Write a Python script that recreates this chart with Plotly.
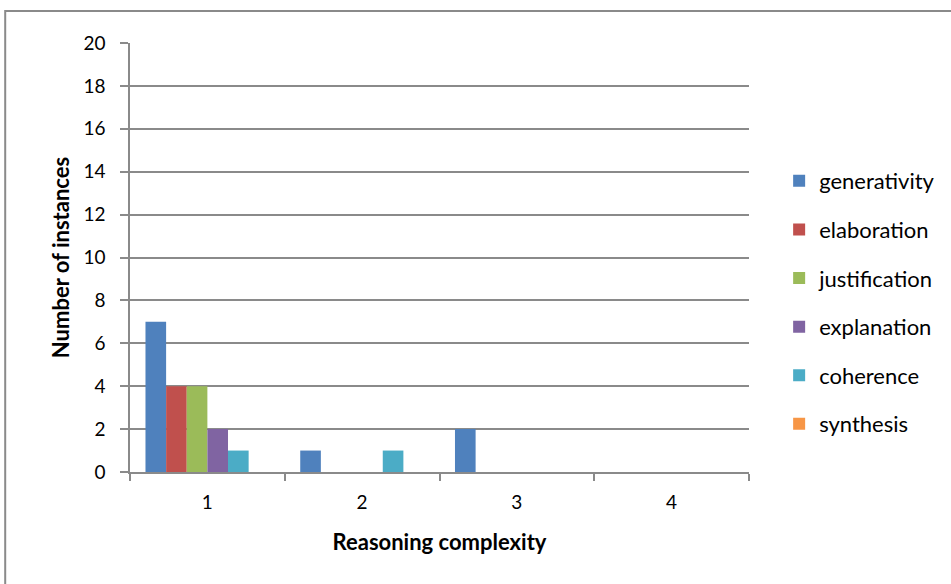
import plotly.graph_objects as go

categories = ["1", "2", "3", "4"]
series_names = ["generativity", "elaboration", "justification", "explanation", "coherence", "synthesis"]
generativity = [7, 1, 2, 0]
elaboration = [4, 0, 0, 0]
justification = [4, 0, 0, 0]
explanation = [2, 0, 0, 0]
coherence = [1, 1, 0, 0]
synthesis = [0, 0, 0, 0]
values = [generativity, elaboration, justification, explanation, coherence, synthesis]
colors = ["#4F81BD", "#C0504D", "#9BBB59", "#8064A2", "#4BACC6", "#F79646"]
y_ticks = list(range(0, 21, 2))

FONT = "Lato, 'Open Sans', sans-serif"
GRID = "#8a8a8a"

fig = go.Figure()
for name, vals, col in zip(series_names, values, colors):
    fig.add_trace(go.Bar(x=categories, y=vals, name=name, marker_color=col,
                         marker_line_width=0, legendgroup=name))

fig.update_layout(
    width=951, height=584,
    margin=dict(l=130, r=201, t=43, b=112),
    paper_bgcolor="white", plot_bgcolor="white",
    barmode="group", bargap=0.2, bargroupgap=0,
    font=dict(family=FONT, size=19, color="black"),
    legend=dict(x=1.047, y=0.395, xanchor="left", yanchor="middle",
                tracegroupgap=17, font=dict(size=22, family=FONT),
                itemwidth=30),
    showlegend=True,
)
fig.update_xaxes(
    type="category", showline=True, linecolor=GRID, linewidth=1.5,
    ticks="outside", tickson="boundaries", ticklen=7, tickcolor=GRID, tickwidth=1.5,
    ticklabelstandoff=12,
    title=dict(text="<b>Reasoning complexity</b>", font=dict(size=22, family=FONT), standoff=23),
    showgrid=False,
)
fig.update_yaxes(
    range=[0, 20], tickvals=y_ticks, showline=True, linecolor=GRID, linewidth=1.5,
    ticks="outside", ticklen=8, tickcolor=GRID, tickwidth=1.5,
    ticklabelstandoff=11,
    showgrid=True, gridcolor=GRID, gridwidth=1.5, zeroline=False,
    title=dict(text="<b>Number of instances</b>", font=dict(size=22, family=FONT), standoff=8),
)
fig.add_shape(type="rect", xref="paper", yref="paper",
              x0=-0.2016, x1=1.6, y0=-0.5, y1=1.0746,
              line=dict(color="#8a8a8a", width=2), layer="below")

fig.write_html("out.html", config={"displayModeBar": False},
               post_script="document.body.style.margin='0px';")
